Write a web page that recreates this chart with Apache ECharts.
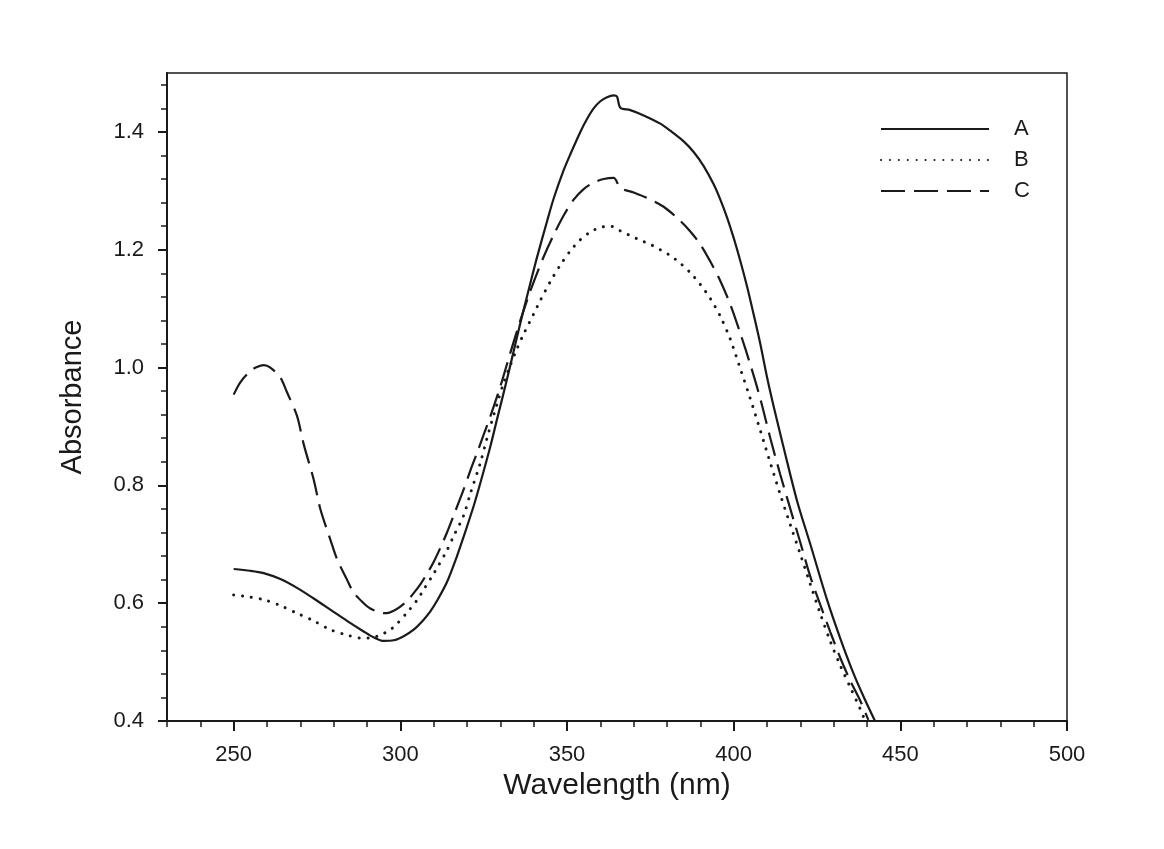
<!DOCTYPE html>
<html>
<head>
<meta charset="utf-8">
<script src="https://cdn.jsdelivr.net/npm/echarts@6/dist/echarts.min.js"></script>
<style>html,body{margin:0;padding:0;background:#fff;}#chart{width:1164px;height:849px;}</style>
</head>
<body>
<div id="chart"></div>
<script>
const xTickValues = [250, 300, 350, 400, 450, 500];
const yTickValues = [0.4, 0.6, 0.8, 1.0, 1.2, 1.4];
const seriesNames = ['A', 'B', 'C'];
const seriesA = [[250,0.658],[255,0.655],[259,0.651],[264,0.641],[269,0.626],[274,0.608],[279,0.589],[284,0.570],[289,0.552],[292,0.542],[295,0.536],[298,0.537],[301,0.544],[304,0.555],[307,0.572],[309,0.586],[311,0.604],[314,0.636],[317,0.680],[319,0.713],[322,0.765],[324,0.804],[327,0.866],[329,0.912],[332,0.980],[335,1.052],[337,1.098],[339,1.143],[341,1.187],[344,1.248],[346,1.287],[349,1.335],[351,1.362],[354,1.400],[356,1.422],[358,1.440],[360,1.452],[362,1.459],[364,1.462],[365,1.460],[366,1.441],[369,1.437],[373,1.428],[378,1.414],[381,1.402],[385,1.384],[388,1.366],[391,1.342],[394,1.311],[396,1.285],[398,1.255],[400,1.220],[402,1.181],[404,1.138],[406,1.090],[408,1.040],[410,0.984],[412,0.934],[415,0.864],[419,0.774],[423,0.700],[428,0.606],[432,0.540],[436,0.480],[439.4,0.436],[442.4,0.400]];
const seriesB = [[250,0.614],[254,0.611],[259,0.606],[264,0.596],[269,0.583],[274,0.570],[279,0.555],[284,0.546],[288,0.541],[291,0.541],[294,0.546],[297,0.555],[299,0.565],[302,0.584],[305,0.605],[307,0.623],[310,0.650],[314,0.690],[316,0.714],[319,0.749],[321,0.786],[324,0.838],[326,0.880],[329,0.938],[331,0.974],[333,1.004],[335,1.032],[337,1.057],[340,1.091],[342,1.114],[345,1.146],[348,1.174],[351,1.198],[354,1.217],[357,1.230],[360,1.238],[363,1.240],[366,1.232],[369,1.224],[372,1.216],[375,1.209],[378,1.200],[381,1.190],[384,1.177],[387,1.161],[390,1.141],[393,1.117],[396,1.087],[399,1.048],[402,0.998],[405,0.947],[408,0.893],[411,0.838],[414,0.784],[417,0.733],[420,0.683],[423,0.632],[426,0.582],[429,0.535],[432,0.494],[435,0.457],[438,0.420],[439.3,0.402]];
const seriesC = [[250,0.954],[252,0.975],[255,0.994],[257,1.001],[259,1.004],[261,1.000],[264,0.983],[266,0.958],[269,0.918],[271,0.870],[274,0.810],[276,0.760],[279,0.708],[281,0.675],[284,0.640],[286,0.618],[289,0.600],[291,0.591],[294,0.584],[296,0.583],[298,0.587],[300,0.594],[302,0.604],[304,0.617],[306,0.632],[308,0.650],[310,0.670],[312,0.694],[314,0.720],[316,0.749],[319,0.793],[321,0.825],[323,0.855],[325,0.886],[327,0.917],[330,0.968],[333,1.025],[336,1.080],[339,1.130],[341,1.160],[343,1.188],[346,1.225],[349,1.258],[352,1.285],[355,1.303],[358,1.314],[361,1.320],[364,1.322],[366,1.305],[370,1.297],[374,1.288],[379,1.273],[384,1.249],[387,1.231],[390,1.209],[393,1.180],[396,1.147],[399,1.107],[402,1.058],[405,1.005],[408,0.947],[411,0.880],[414,0.818],[417,0.760],[420,0.703],[423,0.645],[426,0.597],[429,0.551],[432,0.507],[435,0.468],[438,0.434],[440.4,0.402]];

// minor tick positions every 0.04 below the top edge
const yMinorTicks = [];
for (let i = 0; i < 28; i++) { yMinorTicks.push(+(0.4 + i * 0.04).toFixed(2)); }

const FONT = '"Liberation Sans", Arial, sans-serif';
const INK = '#1a1a1a';
const chart = echarts.init(document.getElementById('chart'), null, {renderer: 'canvas'});

const option = {
  backgroundColor: '#ffffff',
  animation: false,
  grid: {left: 167, top: 73, right: 97, bottom: 128, show: true, borderColor: INK, borderWidth: 1.5, backgroundColor: 'transparent'},
  legend: {
    data: seriesNames,
    orient: 'vertical',
    left: 880,
    top: 117,
    padding: 0,
    itemWidth: 108,
    itemHeight: 14,
    itemGap: 7,
    itemStyle: {opacity: 0},
    textStyle: {fontFamily: FONT, fontSize: 22, color: INK, lineHeight: 24, padding: [0, 0, 0, 20]}
  },
  xAxis: [
    {
      type: 'value', min: 230, max: 500,
      name: 'Wavelength (nm)', nameLocation: 'middle', nameGap: 48,
      nameTextStyle: {fontFamily: FONT, fontSize: 30, color: INK},
      axisLine: {show: true, lineStyle: {color: INK, width: 2}},
      axisTick: {show: true, inside: false, length: 10, lineStyle: {color: INK, width: 2}, customValues: xTickValues},
      axisLabel: {fontFamily: FONT, fontSize: 22, color: INK, margin: 23, customValues: xTickValues},
      splitLine: {show: false}
    },
    {
      type: 'value', min: 230, max: 500, interval: 10, position: 'bottom',
      axisLine: {show: false},
      axisTick: {show: true, length: 6, lineStyle: {color: INK, width: 1.5}},
      axisLabel: {show: false},
      splitLine: {show: false}
    }
  ],
  yAxis: [
    {
      type: 'value', min: 0.4, max: 1.5,
      name: 'Absorbance', nameLocation: 'middle', nameGap: 80, nameRotate: 90,
      nameTextStyle: {fontFamily: FONT, fontSize: 29, color: INK},
      axisLine: {show: true, lineStyle: {color: INK, width: 2}},
      axisTick: {show: true, inside: false, length: 9, lineStyle: {color: INK, width: 2}, customValues: yTickValues},
      axisLabel: {fontFamily: FONT, fontSize: 22, color: INK, margin: 23, customValues: yTickValues,
        formatter: function (v) { return v.toFixed(1); }},
      splitLine: {show: false}
    },
    {
      type: 'value', min: 0.4, max: 1.5, position: 'left',
      axisLine: {show: false},
      axisTick: {show: true, length: 6, lineStyle: {color: INK, width: 1.5}, customValues: yMinorTicks},
      axisLabel: {show: false},
      splitLine: {show: false}
    }
  ],
  series: [
    {name: 'A', type: 'line', data: seriesA, symbol: 'none', smooth: 0.3, xAxisIndex: 0, yAxisIndex: 0,
      lineStyle: {color: INK, width: 2.2, type: 'solid'}, itemStyle: {color: INK}},
    {name: 'B', type: 'line', data: seriesB, symbol: 'none', smooth: 0.3, xAxisIndex: 0, yAxisIndex: 0,
      lineStyle: {color: INK, width: 3, type: [0.1, 8.8], cap: 'round'}, itemStyle: {color: INK}},
    {name: 'C', type: 'line', data: seriesC, symbol: 'none', smooth: 0.3, xAxisIndex: 0, yAxisIndex: 0,
      lineStyle: {color: INK, width: 2.2, type: [24, 9]}, itemStyle: {color: INK}}
  ]
};
chart.setOption(option);
</script>
</body>
</html>
